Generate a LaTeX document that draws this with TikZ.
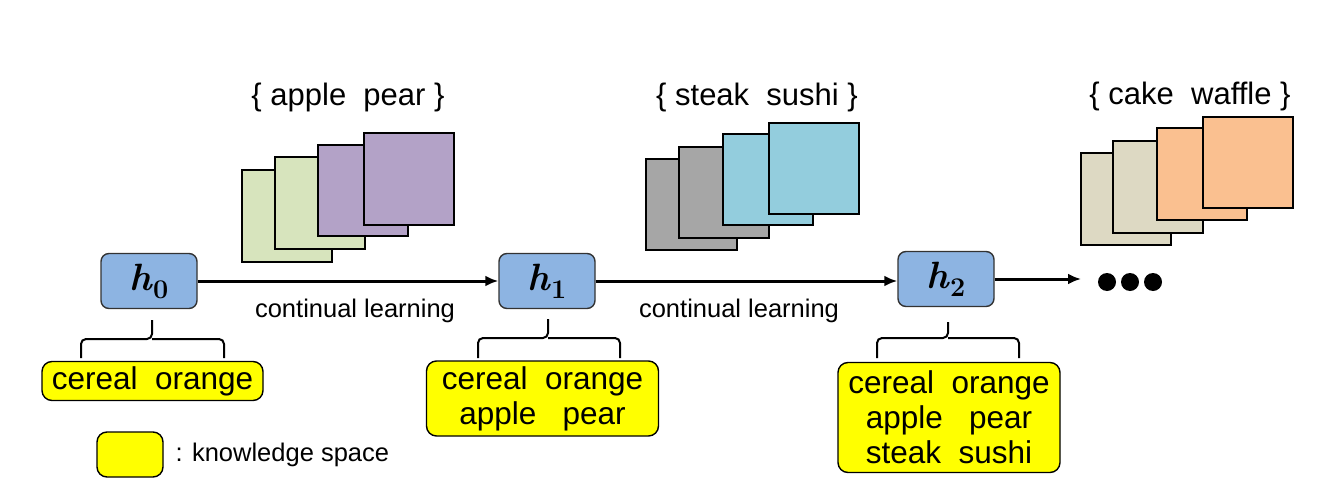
\documentclass[tikz,border=0pt]{standalone}
\usepackage{fontspec}
\setmainfont{Liberation Sans}
\newfontfamily\hfont{Latin Modern Roman}
\usetikzlibrary{arrows.meta}
\definecolor{hblue}{HTML}{8DB4E2}
\definecolor{kyellow}{HTML}{FFFF00}
\definecolor{sqgreen}{HTML}{D7E4BD}
\definecolor{sqpurple}{HTML}{B3A2C7}
\definecolor{sqgray}{HTML}{A6A6A6}
\definecolor{sqcyan}{HTML}{93CDDD}
\definecolor{sqtan}{HTML}{DDD9C3}
\definecolor{sqorange}{HTML}{FAC090}
\definecolor{edgegray}{HTML}{333333}
\newcommand{\hlab}[1]{{\hfont\bfseries\fontsize{38}{40}\selectfont\itshape h\kern1pt\raisebox{-8pt}{\upshape\fontsize{27}{29}\selectfont #1}}}
\tikzset{
  hbox/.style={draw=edgegray, line width=1.4pt, fill=hblue, rounded corners=8pt,
    minimum width=96pt, minimum height=55pt, inner sep=0pt},
  kbox/.style={draw=black, line width=1.4pt, fill=kyellow, rounded corners=10pt,
    inner sep=0pt, align=center, font=\fontsize{31.5}{35}\selectfont},
  sq/.style={draw=black, line width=1.5pt},
  flow/.style={line width=3pt, -{Latex[length=13pt,width=11pt]}},
  brc/.style={line width=2pt, rounded corners=5pt},
  setlabel/.style={font=\fontsize{31}{36}\selectfont},
  cl/.style={font=\fontsize{25.5}{30}\selectfont},
  dot/.style={fill=black, circle, inner sep=0pt, minimum size=18pt}
}
\begin{document}
\begin{tikzpicture}[x=1pt,y=-1pt]
\useasboundingbox (0,0) rectangle (1341,479);
% stacked squares group 1
\draw[sq, fill=sqgreen] (242,170) rectangle (332,262);
\draw[sq, fill=sqgreen] (275,157) rectangle (365,249);
\draw[sq, fill=sqpurple] (318,145) rectangle (408,236);
\draw[sq, fill=sqpurple] (364,133) rectangle (454,225);
\node[setlabel] (lab1) at (348,97) {\{ apple\ \ pear \}};
% group 2
\draw[sq, fill=sqgray] (646,159) rectangle (737,250);
\draw[sq, fill=sqgray] (679,147) rectangle (769,238);
\draw[sq, fill=sqcyan] (723,134) rectangle (813,225);
\draw[sq, fill=sqcyan] (769,123) rectangle (859,214);
\node[setlabel] (lab2) at (757,97) {\{ steak\ \ sushi \}};
% group 3
\draw[sq, fill=sqtan] (1081,153) rectangle (1171,245);
\draw[sq, fill=sqtan] (1113,141) rectangle (1203,233);
\draw[sq, fill=sqorange] (1157,128) rectangle (1247,220);
\draw[sq, fill=sqorange] (1203,117) rectangle (1293,208);
\node[setlabel] (lab3) at (1190,96) {\{ cake\ \ waffle \}};
% model nodes
\node[hbox] (h0) at (149,281) {\hlab{0}};
\node[hbox] (h1) at (547,281) {\hlab{1}};
\node[hbox] (h2) at (946,279) {\hlab{2}};
\coordinate (more) at (1081,281);
\draw[flow] (h0.east) -- (h1.west);
\draw[flow] (h1.east) -- (h1.east -| h2.west);
\draw[flow] (h2.east) -- (h2.east -| more);
\node[dot] (d1) at (1107,282) {};
\node[dot] (d2) at (1130,282) {};
\node[dot] (d3) at (1153,282) {};
\node[cl] (cl1) at (355,311) {continual learning};
\node[cl] (cl2) at (739,311) {continual learning};
% braces
\draw[brc] (81,358) -- (81,339) -- (152,339) -- (152,320);
\draw[brc] (224,358) -- (224,339) -- (152,339);
\draw[brc] (478,358) -- (478,338) -- (548,338) -- (548,319);
\draw[brc] (620,358) -- (620,338) -- (548,338);
\draw[brc] (877,358) -- (877,338) -- (948,338) -- (948,322);
\draw[brc] (1019,358) -- (1019,338) -- (948,338);
% knowledge spaces
\node[kbox, minimum width=221pt, minimum height=39pt] (k0) at (152.5,381) {cereal\ \ orange};
\node[kbox, minimum width=232pt, minimum height=75pt] (k1) at (542.5,398.5) {cereal\ \ orange\\apple\ \ \ pear};
\node[kbox, minimum width=222pt, minimum height=110pt] (k2) at (949,417.5) {cereal\ \ orange\\apple\ \ \ pear\\steak\ \ sushi};
% legend
\node[kbox, minimum width=66pt, minimum height=45pt] (leg) at (130,454.5) {};
\node[cl, anchor=west] (legtxt) at (172,455) {: knowledge space};
\end{tikzpicture}
\end{document}
